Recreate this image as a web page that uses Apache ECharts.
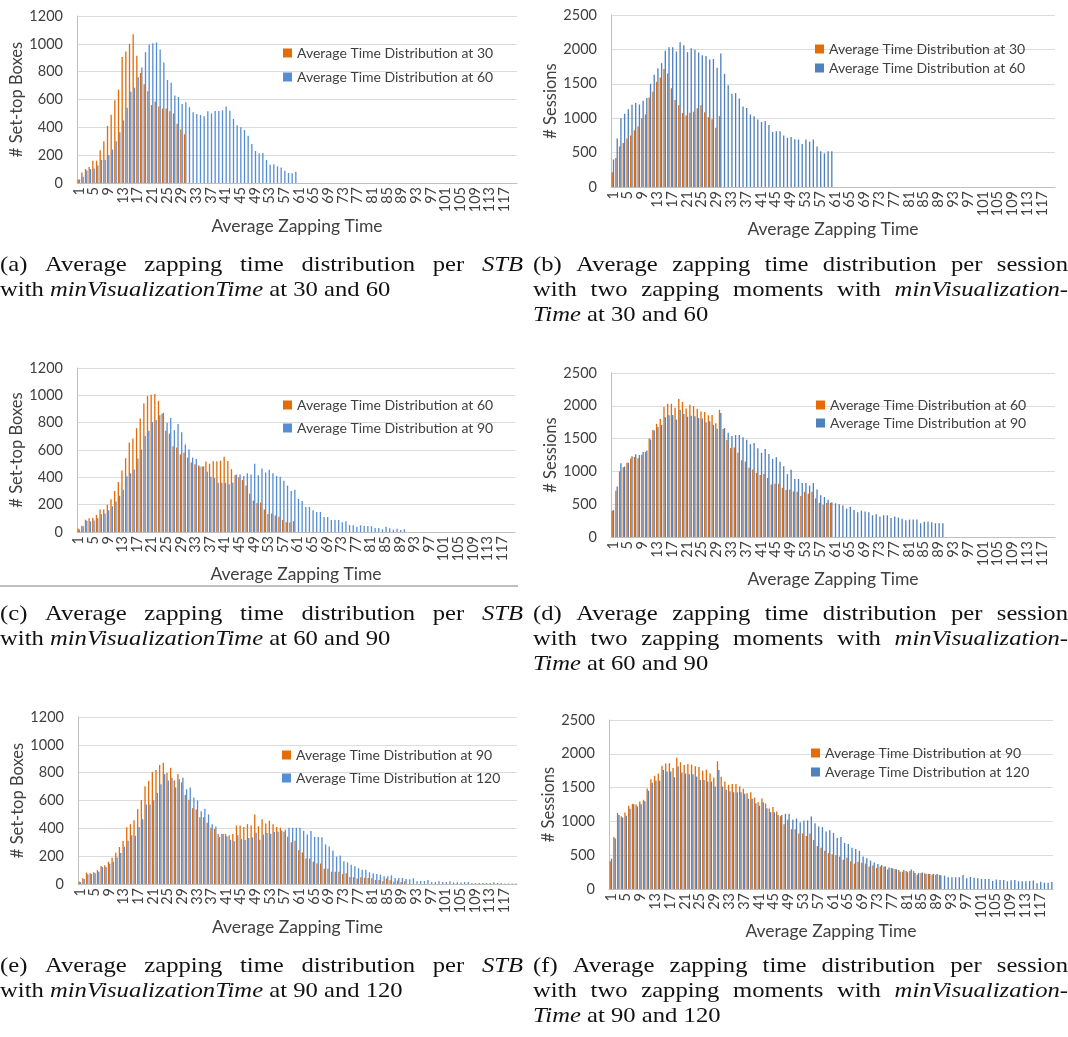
<!DOCTYPE html>
<html>
<head>
<meta charset="utf-8">
<title>Average zapping time distribution</title>
<script src="https://cdn.jsdelivr.net/npm/echarts@6/dist/echarts.min.js"></script>
<style>
  html, body { margin: 0; padding: 0; background: #fff; }
  #zapChart { width: 1068px; height: 1037px; }
</style>
</head>
<body>
<div id="zapChart"></div>
<script>
// x categories: average zapping time 1..120
const zapTimes = Array.from({ length: 120 }, (_, i) => String(i + 1));

// # set-top boxes, one array per minVisualizationTime
const stbAt30 = [25, 75, 100, 115, 160, 160, 235, 300, 410, 490, 595, 670, 905, 945, 1000, 1068, 915, 790, 710, 660,
  560, 585, 550, 535, 535, 515, 500, 425, 385, 350];
const stbAt60 = [25, 45, 90, 100, 105, 125, 165, 165, 200, 240, 300, 365, 450, 540, 655, 685, 760, 830, 940, 995,
  1005, 1010, 960, 865, 740, 720, 628, 618, 568, 580, 545, 508, 495, 488, 480, 515, 500, 518, 518, 522,
  550, 520, 460, 415, 400, 380, 340, 280, 230, 212, 215, 165, 132, 135, 120, 112, 88, 72, 70, 80];
const stbAt90 = [18, 42, 82, 78, 85, 100, 130, 135, 160, 188, 224, 266, 309, 408, 430, 458, 538, 604, 702, 740,
  805, 820, 855, 872, 800, 835, 745, 790, 730, 640, 605, 545, 535, 480, 480, 440, 405, 395, 360, 360,
  360, 350, 360, 420, 420, 410, 430, 420, 500, 415, 465, 435, 455, 430, 410, 405, 375, 340, 300, 310,
  242, 227, 183, 183, 160, 147, 147, 110, 110, 88, 88, 88, 71, 78, 51, 49, 39, 49, 44, 44,
  42, 29, 29, 20, 39, 27, 17, 24, 15, 20];
const stbAt120 = [14, 36, 70, 72, 77, 88, 122, 122, 146, 160, 190, 222, 268, 310, 350, 347, 409, 466, 571, 571,
  602, 655, 717, 789, 743, 763, 695, 753, 763, 681, 693, 621, 600, 523, 540, 500, 430, 414, 337, 359,
  344, 318, 308, 351, 323, 316, 330, 335, 368, 318, 356, 366, 361, 373, 375, 385, 390, 405, 405, 405,
  405, 382, 355, 380, 338, 338, 336, 284, 269, 240, 197, 204, 163, 156, 139, 127, 113, 103, 103, 84,
  77, 72, 67, 55, 55, 62, 43, 43, 43, 36, 34, 41, 19, 22, 22, 29, 14, 14, 19, 14,
  14, 19, 12, 12, 10, 14, 14, 7, 7, 7, 7, 7, 7, 12, 7, 5, 4, 4, 4, 4];

// # sessions with two zapping moments
const sessAt30 = [215, 420, 590, 640, 705, 750, 825, 880, 1000, 1055, 1300, 1385, 1530, 1590, 1715, 1650, 1435, 1265, 1190, 1075,
  1040, 1080, 1095, 1145, 1190, 1085, 1015, 985, 860, 1030];
const sessAt60 = [400, 705, 1000, 1065, 1130, 1195, 1220, 1200, 1255, 1295, 1500, 1630, 1725, 1800, 1980, 2030, 2030, 1970, 2105, 2060,
  1960, 2015, 1995, 1955, 1915, 1905, 1855, 1860, 1735, 1940, 1645, 1480, 1355, 1365, 1285, 1170, 1150, 1055, 1030, 980,
  945, 960, 900, 800, 810, 810, 750, 715, 725, 695, 690, 625, 690, 660, 690, 590, 520, 490, 520, 520];
const sessAt90 = [410, 770, 1125, 1075, 1130, 1230, 1260, 1250, 1295, 1320, 1485, 1625, 1675, 1710, 1825, 1855, 1860, 1790, 1940, 1875,
  1835, 1850, 1840, 1815, 1805, 1750, 1765, 1710, 1650, 1890, 1660, 1590, 1540, 1555, 1555, 1520, 1483, 1415, 1432, 1352,
  1284, 1340, 1266, 1190, 1214, 1148, 1077, 958, 1024, 885, 885, 822, 822, 785, 822, 724, 635, 610, 567, 530,
  514, 499, 479, 433, 463, 412, 377, 402, 387, 377, 331, 346, 311, 331, 331, 290, 311, 295, 280, 255,
  265, 265, 265, 209, 234, 234, 224, 209, 209, 209];
const sessAt120 = [448, 748, 1093, 1058, 1083, 1186, 1255, 1220, 1255, 1299, 1452, 1570, 1604, 1604, 1762, 1737, 1737, 1654, 1811, 1722,
  1708, 1698, 1698, 1663, 1614, 1614, 1590, 1590, 1516, 1762, 1516, 1467, 1447, 1432, 1427, 1432, 1408, 1334, 1334, 1270,
  1230, 1284, 1196, 1137, 1137, 1093, 1093, 1112, 1112, 1024, 1043, 989, 1014, 1014, 1073, 974, 925, 915, 851, 870,
  830, 753, 770, 679, 665, 610, 590, 564, 480, 455, 421, 391, 371, 356, 332, 317, 302, 292, 257, 282,
  248, 287, 238, 238, 243, 223, 223, 223, 223, 205, 198, 173, 173, 173, 173, 208, 158, 178, 168, 158,
  148, 148, 148, 119, 139, 134, 134, 114, 129, 134, 114, 114, 114, 119, 124, 84, 109, 94, 94, 104];

const ORANGE = '#E36C09';
const TEXT = '#404040';
const FONT = 'Lato';

const panels = [
  { grid: { left: 77, top: 16, width: 440, height: 167 }, yMax: 1200, yStep: 200, yName: '# Set-top Boxes', xGap: 34,
    first: ['Average Time Distribution at 30', stbAt30], second: ['Average Time Distribution at 60', stbAt60],
    blue: '#558ED5', legend: { left: 283, top: 46, gap: 10 } },
  { grid: { left: 611, top: 15, width: 444, height: 172 }, yMax: 2500, yStep: 500, yName: '# Sessions', xGap: 31,
    first: ['Average Time Distribution at 30', sessAt30], second: ['Average Time Distribution at 60', sessAt60],
    blue: '#4F81BD', legend: { left: 815, top: 42, gap: 5 } },
  { grid: { left: 77, top: 368, width: 438, height: 164 }, yMax: 1200, yStep: 200, yName: '# Set-top Boxes', xGap: 32,
    first: ['Average Time Distribution at 60', stbAt60], second: ['Average Time Distribution at 90', stbAt90],
    blue: '#558ED5', legend: { left: 283, top: 398, gap: 9 } },
  { grid: { left: 611, top: 373, width: 444, height: 164 }, yMax: 2500, yStep: 500, yName: '# Sessions', xGap: 29,
    first: ['Average Time Distribution at 60', sessAt60], second: ['Average Time Distribution at 90', sessAt90],
    blue: '#4F81BD', legend: { left: 816, top: 398, gap: 4 } },
  { grid: { left: 78, top: 717, width: 439, height: 167 }, yMax: 1200, yStep: 200, yName: '# Set-top Boxes', xGap: 34,
    first: ['Average Time Distribution at 90', stbAt90], second: ['Average Time Distribution at 120', stbAt120],
    blue: '#558ED5', legend: { left: 282, top: 748, gap: 9 } },
  { grid: { left: 609, top: 720, width: 444, height: 169 }, yMax: 2500, yStep: 500, yName: '# Sessions', xGap: 29,
    first: ['Average Time Distribution at 90', sessAt90], second: ['Average Time Distribution at 120', sessAt120],
    blue: '#4F81BD', legend: { left: 811, top: 746, gap: 5 } }
];

// sub-figure captions, *word* = italic
const captions = [
  { x0: 0, x1: 523, y: 265, lines: ['(a) Average zapping time distribution per *STB*', 'with *minVisualizationTime* at 30 and 60'] },
  { x0: 533, x1: 1068, y: 265, lines: ['(b) Average zapping time distribution per session', 'with two zapping moments with *minVisualization-*', '*Time* at 30 and 60'] },
  { x0: 0, x1: 523, y: 614, lines: ['(c) Average zapping time distribution per *STB*', 'with *minVisualizationTime* at 60 and 90'] },
  { x0: 533, x1: 1068, y: 614, lines: ['(d) Average zapping time distribution per session', 'with two zapping moments with *minVisualization-*', '*Time* at 60 and 90'] },
  { x0: 0, x1: 523, y: 966, lines: ['(e) Average zapping time distribution per *STB*', 'with *minVisualizationTime* at 90 and 120'] },
  { x0: 533, x1: 1068, y: 966, lines: ['(f) Average zapping time distribution per session', 'with two zapping moments with *minVisualization-*', '*Time* at 90 and 120'] }
];

const CAP_SCALE = 1.12;
const measureCtx = document.createElement('canvas').getContext('2d');
function capFont(italic) {
  return (italic ? 'italic ' : '') + '22px "Liberation Serif"';
}
function captionLine(text, x0, x1, y, justify) {
  const words = text.split(' ').map(w => {
    const italic = w.startsWith('*');
    const t = w.replace(/\*/g, '');
    measureCtx.font = capFont(italic);
    return { t, italic, w: measureCtx.measureText(t).width * CAP_SCALE };
  });
  measureCtx.font = capFont(false);
  const space = measureCtx.measureText(' ').width * CAP_SCALE;
  const total = words.reduce((s, w) => s + w.w, 0);
  const gap = justify && words.length > 1 ? (x1 - x0 - total) / (words.length - 1) : space;
  let x = x0;
  return words.map(w => {
    const el = {
      type: 'text', x: x, y: y, scaleX: CAP_SCALE, silent: true,
      style: { text: w.t, font: capFont(w.italic), fill: '#111', textVerticalAlign: 'middle', verticalAlign: 'middle' }
    };
    x += w.w + gap;
    return el;
  });
}

const graphics = [];
captions.forEach(c => {
  c.lines.forEach((line, i) => {
    const justify = i < c.lines.length - 1;
    graphics.push(...captionLine(line, c.x0, c.x1, c.y + i * 25, justify));
  });
});
// thin rule under panel (c)
graphics.push({ type: 'line', silent: true, shape: { x1: 0, y1: 586, x2: 518, y2: 586 }, style: { stroke: '#aaaaaa', lineWidth: 1.5 } });

const option = {
  animation: false,
  backgroundColor: '#fff',
  textStyle: { fontFamily: FONT },
  grid: panels.map(p => Object.assign({ containLabel: false }, p.grid)),
  legend: panels.map(p => ({
    orient: 'vertical', left: p.legend.left, top: p.legend.top, itemGap: p.legend.gap, padding: 0,
    itemWidth: 9, itemHeight: 9, icon: 'rect', selectedMode: false,
    textStyle: { fontFamily: FONT, fontSize: 14, color: TEXT },
    data: [
      { name: p.first[0], itemStyle: { color: ORANGE } },
      { name: p.second[0], itemStyle: { color: p.blue } }
    ]
  })),
  xAxis: panels.map((p, i) => ({
    type: 'category', gridIndex: i, data: zapTimes,
    name: 'Average Zapping Time', nameLocation: 'middle', nameGap: p.xGap,
    nameTextStyle: { fontFamily: FONT, fontSize: 17.5, color: TEXT },
    axisLine: { lineStyle: { color: '#bfbfbf' } },
    axisTick: { interval: 0, length: 4, lineStyle: { color: '#bfbfbf' } },
    // every 4th label (1, 5, 9 ... 117)
    axisLabel: {
      interval: 0, rotate: 90, margin: 4, fontFamily: FONT, fontSize: 14.5, color: TEXT,
      formatter: (v, idx) => (idx % 4 === 0 ? v : '')
    }
  })),
  yAxis: panels.map((p, i) => ({
    type: 'value', gridIndex: i, min: 0, max: p.yMax, interval: p.yStep,
    name: p.yName, nameLocation: 'middle', nameGap: 50, nameRotate: 90,
    nameTextStyle: { fontFamily: FONT, fontSize: 16.5, color: TEXT },
    axisLine: { show: true, lineStyle: { color: '#bfbfbf' } },
    axisTick: { show: false },
    axisLabel: { margin: 14, fontFamily: FONT, fontSize: 14.5, color: TEXT, formatter: v => String(v) },
    splitLine: { lineStyle: { color: '#dcdcdc' } }
  })),
  series: panels.flatMap((p, i) => [
    { type: 'bar', name: p.first[0], data: p.first[1], xAxisIndex: i, yAxisIndex: i,
      barGap: '0%', barCategoryGap: '28%', itemStyle: { color: ORANGE } },
    { type: 'bar', name: p.second[0], data: p.second[1], xAxisIndex: i, yAxisIndex: i,
      barGap: '0%', barCategoryGap: '28%', itemStyle: { color: p.blue } }
  ]),
  graphic: graphics
};

const zapChart = echarts.init(document.getElementById('zapChart'));
zapChart.setOption(option);
</script>
</body>
</html>
